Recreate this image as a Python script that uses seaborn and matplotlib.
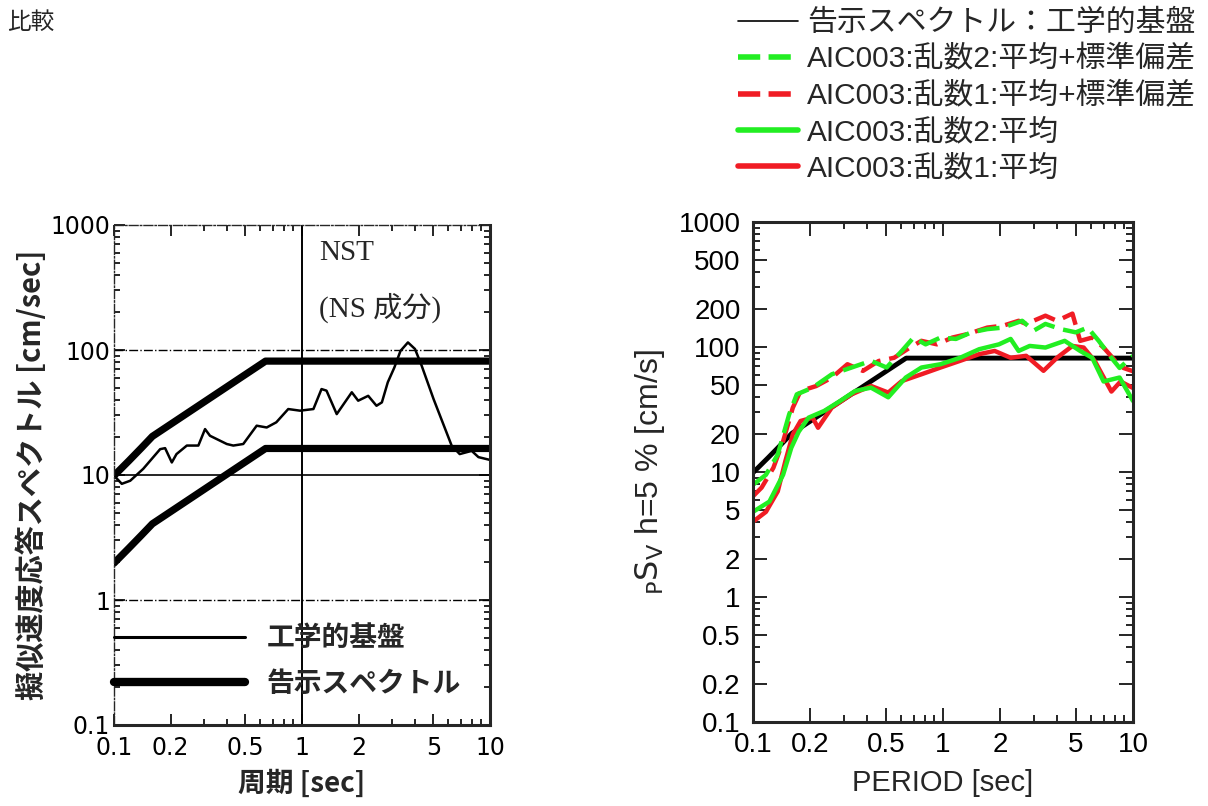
import matplotlib
matplotlib.use("Agg")
import matplotlib.pyplot as plt
import matplotlib.ticker as mticker
from matplotlib.lines import Line2D
import seaborn as sns

# --- data -----------------------------------------------------------------
# 告示スペクトル (極稀 / 稀) at engineering bedrock
spec_T = [0.1, 0.12, 0.14, 0.16, 0.64, 10.0]
spec_high = [9.87, 12.99, 16.49, 20.37, 81.5, 81.5]
spec_low = [1.97, 2.60, 3.30, 4.07, 16.3, 16.3]

# 工学的基盤 (NST, NS成分)
nst_T = [0.1, 0.11, 0.122, 0.143, 0.176, 0.187, 0.203, 0.215, 0.244, 0.281,
         0.305, 0.324, 0.398, 0.431, 0.487, 0.574, 0.649, 0.73, 0.845, 0.976,
         1.15, 1.27, 1.35, 1.53, 1.84, 1.99, 2.25, 2.49, 2.66, 2.86,
         3.10, 3.34, 3.66, 3.99, 4.33, 5.01, 6.25, 6.9, 7.99, 8.68, 10.0]
nst_V = [9.9, 8.5, 9.0, 11.2, 16.1, 16.4, 12.6, 14.7, 17.2, 17.2,
         23.3, 20.6, 17.7, 17.2, 17.7, 24.8, 24.0, 26.4, 33.7, 32.7,
         33.7, 48.7, 47.3, 30.7, 45.9, 39.3, 43.0, 35.8, 38.1, 55.2,
         72.5, 98.3, 115, 101.9, 74.9, 40.5, 17.2, 14.7, 15.6, 13.9, 13.2]

# AIC003 乱数1 平均+標準偏差
r1sd_T = [0.1, 0.111, 0.128, 0.144, 0.162, 0.178, 0.215, 0.26, 0.314, 0.379,
          0.458, 0.553, 0.67, 0.77, 0.93, 1.12, 1.35, 1.71, 2.07, 2.5,
          2.74, 3.46, 3.98, 4.8, 5.27, 6.1, 7.0, 8.1, 8.9, 10.0]
r1sd_V = [6.4, 7.5, 10.8, 17.6, 32.7, 44.5, 48.7, 56.9, 72.8, 64.4,
          77.2, 82, 99, 112, 105, 119, 127, 143, 148, 162,
          153, 178, 162, 185, 112, 119, 99, 77, 68, 64]

# AIC003 乱数2 平均+標準偏差
r2sd_T = [0.1, 0.117, 0.135, 0.155, 0.17, 0.206, 0.26, 0.33, 0.418, 0.505,
          0.607, 0.70, 0.81, 0.97, 1.17, 1.41, 1.71, 2.07, 2.61, 3.0,
          3.46, 4.17, 5.0, 5.77, 6.6, 7.7, 8.5, 10.0]
r2sd_V = [7.9, 9.5, 13.8, 28.9, 41.8, 47.3, 60.5, 68.5, 77.5, 68.5,
          93, 119, 105, 119, 116, 131, 139, 143, 162, 135,
          153, 139, 131, 143, 112, 82, 68, 85]

# AIC003 乱数1 平均
r1_T = [0.1, 0.117, 0.135, 0.148, 0.162, 0.178, 0.206, 0.22, 0.26, 0.33,
        0.418, 0.515, 0.607, 0.77, 0.97, 1.23, 1.55, 1.87, 2.27, 2.74,
        3.38, 3.98, 4.8, 5.5, 6.3, 7.7, 8.6, 10.0]
r1_V = [4.0, 4.8, 7.0, 12.2, 20, 25.6, 27.2, 22.6, 32.8, 41.8,
        48.8, 43.2, 53.4, 60.5, 68.5, 77.5, 87.6, 93, 82, 85,
        64.5, 82, 102, 99, 77, 44, 53, 47]

# AIC003 乱数2 平均
r2_T = [0.1, 0.122, 0.144, 0.159, 0.174, 0.196, 0.237, 0.286, 0.345, 0.418,
        0.515, 0.637, 0.77, 0.97, 1.23, 1.55, 1.97, 2.27, 2.5, 2.86,
        3.46, 4.37, 5.27, 6.1, 7.0, 8.5, 10.0]
r2_V = [4.8, 5.8, 9.5, 15.6, 21, 27.2, 30.8, 36.8, 44.5, 47.3,
        39.6, 57, 68.5, 72.8, 82, 96, 105, 116, 93, 102,
        99, 112, 93, 82, 53, 57, 37]

x_ticks = [0.1, 0.2, 0.5, 1, 2, 5, 10]
x_ticklabels = ["0.1", "0.2", "0.5", "1", "2", "5", "10"]
left_yticks = [0.1, 1, 10, 100, 1000]
left_yticklabels = ["0.1", "1", "10", "100", "1000"]
right_yticks = [0.1, 0.2, 0.5, 1, 2, 5, 10, 20, 50, 100, 200, 500, 1000]
right_yticklabels = ["0.1", "0.2", "0.5", "1", "2", "5", "10", "20", "50",
                     "100", "200", "500", "1000"]

# --- style ----------------------------------------------------------------
sns.set_style("ticks")
plt.rcParams['font.family'] = ['Noto Sans CJK JP', 'DejaVu Sans']
plt.rcParams['xtick.direction'] = 'in'
plt.rcParams['ytick.direction'] = 'in'

RED = '#f01c24'
GREEN = '#22ee22'
SANS = ['Liberation Sans', 'Noto Sans CJK JP']
LEFT_NUM = ['DejaVu Sans']

fig = plt.figure(figsize=(12.08, 8.06), dpi=100)
fig.text(0.006, 1 - 22 / 806, '比較', fontsize=17, va='center', ha='left')

# --- left panel -----------------------------------------------------------
ax1 = fig.add_axes([114 / 1208, 1 - 725 / 806, 376 / 1208, 500 / 806])
ax1.set_xscale('log')
ax1.set_yscale('log')
ax1.set_xlim(0.1, 10)
ax1.set_ylim(0.1, 1000)

# reference grid lines of the original figure
ax1.axhline(100, color='k', lw=1.0, ls='-.')
ax1.axhline(1, color='k', lw=1.0, ls='-.')
ax1.axhline(10, color='k', lw=1.2)
ax1.axvline(1, color='k', lw=1.4)

sns.lineplot(x=spec_T, y=spec_high, ax=ax1, color='k', lw=5.2,
             estimator=None, sort=False)
sns.lineplot(x=spec_T, y=spec_low, ax=ax1, color='k', lw=5.2,
             estimator=None, sort=False)
sns.lineplot(x=nst_T, y=nst_V, ax=ax1, color='k', lw=1.8,
             estimator=None, sort=False)

ax1.set_xticks(x_ticks)
ax1.set_xticklabels(x_ticklabels, family=LEFT_NUM)
ax1.set_yticks(left_yticks)
ax1.set_yticklabels(left_yticklabels, family=LEFT_NUM)
ax1.xaxis.set_minor_locator(mticker.LogLocator(base=10, subs=range(2, 10)))
ax1.yaxis.set_minor_locator(mticker.LogLocator(base=10, subs=range(2, 10)))
ax1.xaxis.set_minor_formatter(mticker.NullFormatter())
ax1.yaxis.set_minor_formatter(mticker.NullFormatter())
ax1.tick_params(which='both', top=True, right=True, labelsize=17,
                width=1.2, colors='k')
ax1.tick_params(axis='x', pad=8)
ax1.tick_params(axis='y', pad=3)
ax1.tick_params(which='major', length=8)
ax1.tick_params(which='minor', length=4)
for side in ['bottom', 'right']:
    ax1.spines[side].set_linewidth(2.2)
for side in ['left', 'top']:
    ax1.spines[side].set_linewidth(1.0)
    ax1.spines[side].set_linestyle('-.')

ax1.set_xlabel('周期 [sec]', fontsize=20, fontweight='bold', labelpad=7)
ax1.set_ylabel('擬似速度応答スペクトル [cm/sec]', fontsize=21,
               fontweight='bold', labelpad=2)

ax1.text(0.545, 0.945, 'NST', transform=ax1.transAxes, fontsize=21,
         family=['Liberation Serif', 'Noto Sans CJK JP'], va='center')
ax1.text(0.545, 0.835, '(NS 成分)', transform=ax1.transAxes, fontsize=21,
         family=['Liberation Serif', 'Noto Sans CJK JP'], va='center')

h_base = Line2D([], [], color='k', lw=2.2)
h_spec = Line2D([], [], color='k', lw=6)
ax1.legend([h_base, h_spec], ['工学的基盤', '告示スペクトル'], loc='lower left',
           bbox_to_anchor=(0.0, 0.055), frameon=False,
           prop={'size': 20, 'weight': 'bold'}, borderpad=0, borderaxespad=0,
           handlelength=4.7, handletextpad=0.8, labelspacing=0.62)

# --- right panel ----------------------------------------------------------
ax2 = fig.add_axes([753 / 1208, 1 - 722 / 806, 380 / 1208, 500 / 806])
ax2.set_xscale('log')
ax2.set_yscale('log')

sns.lineplot(x=spec_T, y=spec_high, ax=ax2, color='k', lw=3.5,
             estimator=None, sort=False)
sns.lineplot(x=r1sd_T, y=r1sd_V, ax=ax2, color=RED, lw=3.2,
             linestyle=(0, (5, 2)), estimator=None, sort=False)
sns.lineplot(x=r2sd_T, y=r2sd_V, ax=ax2, color=GREEN, lw=3.2,
             linestyle=(0, (5, 2)), estimator=None, sort=False)
sns.lineplot(x=r1_T, y=r1_V, ax=ax2, color=RED, lw=3.2,
             estimator=None, sort=False)
sns.lineplot(x=r2_T, y=r2_V, ax=ax2, color=GREEN, lw=3.2,
             estimator=None, sort=False)

ax2.set_xlim(0.1, 10)
ax2.set_ylim(0.1, 1000)
ax2.set_xticks(x_ticks)
ax2.set_xticklabels(x_ticklabels, family=SANS)
ax2.set_yticks(right_yticks)
ax2.set_yticklabels(right_yticklabels, family=SANS)
ax2.xaxis.set_minor_locator(mticker.LogLocator(base=10, subs=range(2, 10)))
ax2.yaxis.set_minor_locator(mticker.LogLocator(base=10, subs=range(2, 10)))
ax2.xaxis.set_minor_formatter(mticker.NullFormatter())
ax2.yaxis.set_minor_formatter(mticker.NullFormatter())
ax2.tick_params(which='both', top=True, right=True, labelsize=20,
                width=1.2, colors='k')
ax2.tick_params(axis='y', pad=9)
ax2.tick_params(axis='x', pad=7)
ax2.tick_params(which='major', length=10)
ax2.tick_params(which='minor', length=5)
for side in ax2.spines.values():
    side.set_linewidth(2.2)

ax2.set_xlabel('PERIOD [sec]', fontsize=21, family=SANS, labelpad=8)
ax2.set_ylabel(r'$_{\mathrm{P}}\mathrm{S}_{\mathrm{V}}$ h=5 % [cm/s]',
               fontsize=23, family=SANS, labelpad=8)

handles = [
    Line2D([], [], color='k', lw=1.2),
    Line2D([], [], color=GREEN, lw=4, linestyle=(0, (4, 1.5))),
    Line2D([], [], color=RED, lw=4, linestyle=(0, (4, 1.5))),
    Line2D([], [], color=GREEN, lw=4),
    Line2D([], [], color=RED, lw=4),
]
labels = ['告示スペクトル：工学的基盤', 'AIC003:乱数2:平均+標準偏差',
          'AIC003:乱数1:平均+標準偏差', 'AIC003:乱数2:平均', 'AIC003:乱数1:平均']
leg = fig.legend(handles, labels, loc='upper left',
                 bbox_to_anchor=(738 / 1208, 1 - 9 / 806), frameon=False,
                 prop={'family': SANS, 'size': 21.5}, handlelength=2.0,
                 handletextpad=0.3, labelspacing=0.28, borderpad=0,
                 borderaxespad=0)

fig.savefig('out.png', dpi=100)
